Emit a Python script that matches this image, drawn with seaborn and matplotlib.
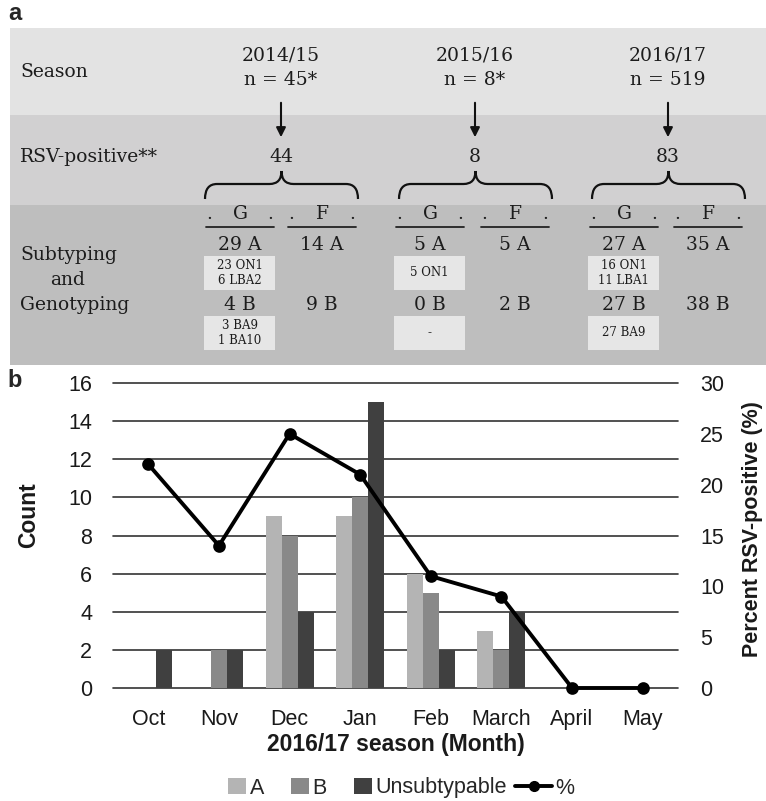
import numpy as np
import pandas as pd
import matplotlib
matplotlib.use("Agg")
import matplotlib.pyplot as plt
import seaborn as sns
from matplotlib.patches import Rectangle, Patch, PathPatch
from matplotlib.path import Path
from matplotlib.lines import Line2D
from matplotlib.legend_handler import HandlerPatch

# ---- panel a: season overview ----
seasons = ["2014/15", "2015/16", "2016/17"]
season_n = ["n = 45*", "n = 8*", "n = 519"]
rsv_positive = [44, 8, 83]
g_subtype_a = [29, 5, 27]
f_subtype_a = [14, 5, 35]
g_subtype_b = [4, 0, 27]
f_subtype_b = [9, 2, 38]
a_genotypes = ["23 ON1\n6 LBA2", "5 ON1", "16 ON1\n11 LBA1"]
b_genotypes = ["3 BA9\n1 BA10", "-", "27 BA9"]

# ---- panel b: monthly counts, 2016/17 season ----
months = ["Oct", "Nov", "Dec", "Jan", "Feb", "March", "April", "May"]
count_a = [0, 0, 9, 9, 6, 3, 0, 0]
count_b = [0, 2, 8, 10, 5, 2, 0, 0]
count_unsub = [2, 2, 4, 15, 2, 4, 0, 0]
pct_positive = [22, 14, 25, 21, 11, 9, 0, 0]
subtypes = ["A", "B", "Unsubtypable"]
subtype_colors = ["#b4b4b4", "#898989", "#404040"]

sns.set_style("white")
plt.rcParams["font.family"] = ["Liberation Sans", "DejaVu Sans"]

W, H = 766, 801
fig = plt.figure(figsize=(W / 100, H / 100), dpi=100)

# overlay in pixel coordinates for the diagram
pa = fig.add_axes([0, 0, 1, 1])
pa.set_xlim(0, W)
pa.set_ylim(H, 0)
pa.axis("off")

for y0, y1, c in [(28, 115, "#e3e3e3"), (115, 205, "#d1d0d1"), (205, 365, "#bebebe")]:
    pa.add_patch(Rectangle((10, y0), W - 10, y1 - y0, facecolor=c, edgecolor="none"))

serif = dict(family="DejaVu Serif", color="#1c1c1c")
big = 13.5
pa.text(20, 72, "Season", fontsize=big, ha="left", va="center", **serif)
pa.text(20, 157, "RSV-positive**", fontsize=big, ha="left", va="center", **serif)
pa.text(20, 255, "Subtyping", fontsize=big, ha="left", va="center", **serif)
pa.text(68, 280, "and", fontsize=big, ha="center", va="center", **serif)
pa.text(20, 305, "Genotyping", fontsize=big, ha="left", va="center", **serif)


def brace(ax, x0, x1, y_tip, y_mid, y_end, r=12):
    xc = (x0 + x1) / 2
    verts = [(x0, y_end), (x0, y_mid), (x0 + r, y_mid), (xc - r, y_mid), (xc, y_mid), (xc, y_tip),
             (xc, y_tip), (xc, y_mid), (xc + r, y_mid), (x1 - r, y_mid), (x1, y_mid), (x1, y_end)]
    codes = [Path.MOVETO, Path.CURVE3, Path.CURVE3, Path.LINETO, Path.CURVE3, Path.CURVE3,
             Path.MOVETO, Path.CURVE3, Path.CURVE3, Path.LINETO, Path.CURVE3, Path.CURVE3]
    ax.add_patch(PathPatch(Path(verts, codes), facecolor="none", edgecolor="#111111", lw=1.6))


season_x = [281, 475, 668]
g_x = [240, 430, 624]
f_x = [322, 515, 708]
for i, x in enumerate(season_x):
    pa.text(x, 55, seasons[i], fontsize=big, ha="center", va="center", **serif)
    pa.text(x, 80, season_n[i], fontsize=big, ha="center", va="center", **serif)
    pa.annotate("", xy=(x, 140), xytext=(x, 100),
                arrowprops=dict(arrowstyle="-|>", color="#111111", lw=1.5, mutation_scale=14))
    pa.text(x, 157, str(rsv_positive[i]), fontsize=big, ha="center", va="center", **serif)
    brace(pa, x - 76, x + 77, 171, 184, 199)

    for cx, lab in [(g_x[i], "G"), (f_x[i], "F")]:
        pa.text(cx, 214, lab, fontsize=big, ha="center", va="center", **serif)
        pa.text(cx - 31, 214, ".", fontsize=big, ha="center", va="center", **serif)
        pa.text(cx + 30, 214, ".", fontsize=big, ha="center", va="center", **serif)
        pa.plot([cx - 34, cx + 34], [227, 227], color="#222222", lw=1.3)

    pa.text(g_x[i], 245, f"{g_subtype_a[i]} A", fontsize=big, ha="center", va="center", **serif)
    pa.text(f_x[i], 245, f"{f_subtype_a[i]} A", fontsize=big, ha="center", va="center", **serif)
    pa.text(g_x[i], 305, f"{g_subtype_b[i]} B", fontsize=big, ha="center", va="center", **serif)
    pa.text(f_x[i], 305, f"{f_subtype_b[i]} B", fontsize=big, ha="center", va="center", **serif)

    for yb, txt in [(256, a_genotypes[i]), (316, b_genotypes[i])]:
        pa.add_patch(Rectangle((g_x[i] - 36, yb), 71, 34, facecolor="#e6e6e6", edgecolor="none"))
        pa.text(g_x[i] - 0.5, yb + 17, txt, fontsize=8.5, ha="center", va="center",
                linespacing=1.15, **serif)

fig.text(15 / W, 1 - 13 / H, "a", fontsize=17, fontweight="bold", ha="center", va="center")
fig.text(15 / W, 1 - 380 / H, "b", fontsize=17, fontweight="bold", ha="center", va="center")

# ---- panel b ----
L, T, R, B = 113, 383, 678, 688
ax = fig.add_axes([L / W, 1 - B / H, (R - L) / W, (B - T) / H])

df = pd.DataFrame({
    "month": months * 3,
    "subtype": sum([[s] * len(months) for s in subtypes], []),
    "count": count_a + count_b + count_unsub,
})
sns.barplot(data=df, x="month", y="count", hue="subtype", order=months, hue_order=subtypes,
            palette=subtype_colors, width=0.68, saturation=1, linewidth=0, legend=False, ax=ax)
ax.set_xlim(-0.5, len(months) - 0.5)
ax.set_ylim(0, 16)
ax.set_yticks(range(0, 17, 2))
ax.grid(axis="y", color="#333333", lw=1.2)
ax.set_axisbelow(True)
for gl in ax.get_ygridlines():
    gl.set_clip_on(False)
ax.tick_params(axis="both", length=0, labelsize=15.5, colors="#1a1a1a")
ax.tick_params(axis="y", pad=15)
ax.tick_params(axis="x", pad=15)
for s in ax.spines.values():
    s.set_visible(False)

ax2 = ax.twinx()
sns.pointplot(x=months, y=pct_positive, ax=ax2, color="black", markersize=7, linewidth=2.8)
ax2.set_xlim(-0.5, len(months) - 0.5)
ax2.set_ylim(0, 30)
ax2.set_yticks(range(0, 31, 5))
ax2.grid(False)
for ln in ax2.lines:
    ln.set_clip_on(False)
ax2.tick_params(axis="y", length=0, labelsize=15.5, pad=16, colors="#1a1a1a")
for s in ax2.spines.values():
    s.set_visible(False)

lab_kw = dict(fontweight="bold", color="#1a1a1a")
ax.set_xlabel("2016/17 season (Month)", labelpad=2, fontsize=16.5, **lab_kw)
ax.set_ylabel("Count", fontsize=16.5, **lab_kw)
ax.yaxis.set_label_coords((40 - L) / (R - L), 0.567)
ax2.set_ylabel("Percent RSV-positive (%)", fontsize=15.5, **lab_kw)
ax2.yaxis.set_label_coords((742 - L) / (R - L), 0.52)


def square_patch(legend, orig_handle, xdescent, ydescent, width, height, fontsize):
    w = 0.85 * fontsize
    return Rectangle((-xdescent + width - w, -ydescent), w, height)


handles = [Patch(facecolor=c, edgecolor="none") for c in subtype_colors]
handles.append(Line2D([], [], color="black", marker="o", lw=2.8, ms=7))
fig.legend(handles, subtypes + ["%"], loc="center", bbox_to_anchor=(392 / W, 1 - 788 / H),
           ncol=4, frameon=False, fontsize=15.5, handlelength=1.7, handletextpad=0.15,
           columnspacing=0.4, handler_map={Patch: HandlerPatch(patch_func=square_patch)})

fig.savefig("out.png", dpi=100)
